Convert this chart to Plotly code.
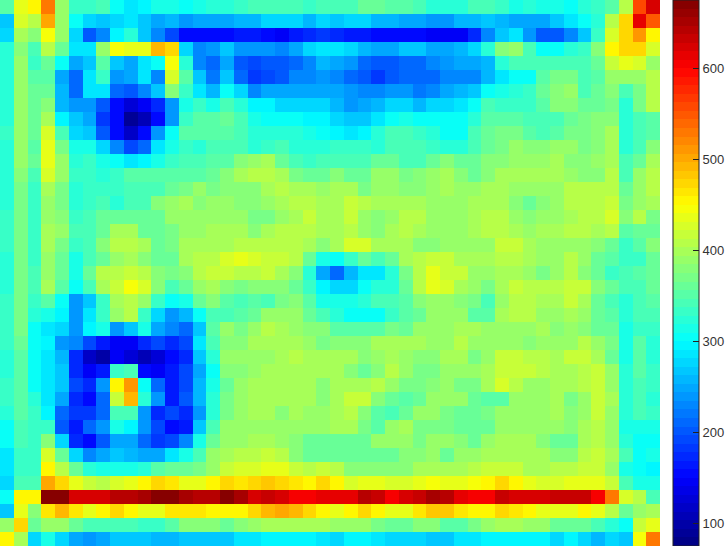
import numpy as np
import plotly.graph_objects as go

# Each row of the grid, top to bottom
row00 = [355,440,450,530,385,330,330,340,300,290,298,312,312,300,318,320,320,330,338,338,338,338,330,345,345,345,360,360,350,350,340,325,325,320,340,340,330,315,325,310,310,305,320,330,350,410,555,625]
row01 = [270,425,410,505,390,300,280,265,280,290,270,245,255,240,250,250,250,260,260,275,275,275,260,280,270,272,275,262,262,252,252,243,243,255,262,270,258,250,248,248,268,282,300,325,405,475,610,550]
row02 = [280,400,375,445,385,275,205,225,295,320,270,230,190,150,150,153,158,160,160,158,145,160,172,180,175,165,162,158,155,155,155,148,143,148,178,225,265,285,235,205,205,228,265,330,425,475,515,450]
row03 = [320,375,345,405,360,290,285,385,445,435,435,495,475,280,225,235,265,240,240,240,232,252,280,290,285,272,262,252,252,265,265,250,250,262,275,320,375,390,345,300,300,320,330,380,450,475,475,425]
row04 = [325,390,335,365,300,250,270,355,270,250,285,300,445,320,225,215,245,205,190,205,205,215,230,255,250,235,215,205,205,212,212,225,240,250,252,255,320,345,345,345,345,340,340,360,420,435,425,390]
row05 = [325,390,350,350,250,215,285,335,240,245,285,225,425,350,265,220,265,215,185,195,205,225,225,235,225,215,200,185,198,210,210,212,225,230,225,255,285,300,305,350,370,370,345,355,390,390,390,405]
row06 = [325,390,360,360,255,215,285,285,215,205,225,270,380,335,285,255,300,275,225,245,245,245,245,245,245,235,225,225,240,240,220,230,245,260,270,300,315,325,330,360,375,385,345,360,380,345,370,410]
row07 = [325,390,365,375,255,240,240,200,150,125,145,175,240,310,330,310,345,320,295,295,275,275,275,275,255,240,250,262,275,275,255,275,275,285,300,340,335,330,335,350,375,380,365,365,370,320,370,405]
row08 = [325,390,365,400,295,265,245,185,150,85,105,155,240,335,355,355,365,345,315,300,300,300,295,295,275,265,265,290,305,315,300,300,300,300,325,350,350,350,345,345,340,365,370,380,375,320,340,355]
row09 = [335,385,360,425,340,280,270,205,150,115,150,240,300,355,355,350,350,340,325,325,325,320,310,305,298,285,298,325,345,345,335,325,305,305,345,360,370,370,355,345,350,370,370,375,395,325,340,350]
row10 = [325,385,350,435,370,315,315,280,225,190,215,285,310,335,320,345,345,345,325,335,345,325,320,320,335,335,335,325,345,345,340,335,325,325,340,365,370,385,375,375,385,385,370,380,395,325,340,375]
row11 = [325,385,365,440,385,320,335,315,300,290,298,315,335,340,345,355,355,375,385,395,365,340,330,345,340,340,340,360,360,345,345,365,375,360,360,375,380,385,385,385,395,380,375,385,400,345,365,395]
row12 = [325,375,345,430,385,335,335,320,335,355,355,355,355,355,355,365,375,395,410,410,395,370,365,365,380,360,360,385,385,370,375,390,400,380,365,375,395,395,395,400,400,385,375,375,405,345,385,405]
row13 = [325,370,330,400,370,325,335,335,335,345,345,345,360,370,385,370,380,380,380,395,410,400,400,385,395,395,370,390,390,375,375,390,400,385,385,395,395,385,385,385,385,405,405,405,410,365,390,405]
row14 = [325,370,330,385,370,325,330,340,325,340,345,375,385,395,375,390,390,375,375,385,395,410,410,400,395,420,410,395,395,395,395,385,385,385,395,395,395,380,365,380,390,405,410,410,415,370,385,395]
row15 = [335,370,330,385,380,335,345,360,360,360,360,360,390,390,390,390,390,390,370,370,385,400,415,395,400,420,385,375,390,410,410,385,385,385,395,405,405,390,375,390,390,400,405,405,425,375,405,370]
row16 = [335,370,330,395,385,345,345,365,395,395,360,360,370,390,390,395,395,395,375,395,410,410,410,400,395,410,390,375,395,405,395,385,385,385,395,405,405,395,390,395,395,405,405,395,410,350,365,365]
row17 = [335,370,335,395,370,335,345,380,405,405,395,360,370,400,400,400,400,410,410,410,410,410,395,380,395,425,425,395,395,395,380,380,385,385,385,385,415,415,400,390,390,390,390,375,365,330,350,375]
row18 = [320,370,335,385,360,315,345,360,385,400,375,360,365,400,405,410,425,435,425,420,420,405,360,310,300,335,360,345,365,395,410,420,420,400,400,395,410,410,395,385,385,405,385,365,355,335,335,360]
row19 = [320,370,340,385,360,315,360,405,410,420,410,380,370,375,410,420,420,410,410,415,400,375,320,250,215,255,285,285,325,370,405,435,420,415,390,385,395,395,385,370,390,405,380,365,335,345,355,365]
row20 = [320,370,340,400,355,300,345,395,420,445,425,380,345,365,390,400,380,370,380,380,380,365,330,295,272,272,300,325,325,365,405,440,425,400,385,370,395,420,405,405,405,420,420,375,360,345,345,365]
row21 = [330,370,335,355,300,235,265,335,395,410,385,335,300,315,360,380,355,345,350,345,370,375,350,315,310,315,320,340,340,350,375,385,385,375,370,345,385,405,405,400,400,420,400,360,345,325,340,350]
row22 = [335,370,320,310,295,235,285,335,385,405,335,275,240,255,300,345,345,355,360,385,385,385,365,340,325,300,300,300,330,355,365,385,385,385,355,355,395,410,410,385,385,395,385,360,350,325,340,345]
row23 = [335,370,305,290,275,235,295,310,240,265,310,250,225,215,270,350,385,370,385,405,400,385,375,375,350,350,350,350,370,360,385,385,390,395,395,385,385,385,385,395,375,385,375,360,360,310,335,330]
row24 = [330,360,305,295,240,225,190,160,145,145,175,195,170,195,285,340,380,380,395,395,395,395,385,370,375,375,375,395,400,400,400,385,385,410,385,385,385,385,375,385,385,385,405,385,370,310,355,320]
row25 = [325,355,300,285,255,170,115,95,145,130,110,125,150,175,270,320,385,385,390,385,395,410,395,400,395,395,375,390,395,385,375,375,395,395,370,385,420,420,405,405,395,415,415,400,360,310,350,320]
row26 = [320,350,300,285,265,175,145,165,330,340,150,145,160,190,245,300,375,375,385,400,400,400,400,400,395,380,365,375,405,390,370,370,385,385,385,395,420,420,420,405,400,400,410,415,385,320,350,335]
row27 = [330,355,300,290,265,195,170,240,450,510,300,210,165,190,255,310,360,385,395,395,395,395,395,380,400,400,400,405,385,370,370,375,385,370,370,400,425,405,390,390,395,395,410,415,385,320,345,335]
row28 = [330,355,320,285,250,170,155,215,420,495,320,235,160,205,255,325,370,385,395,395,395,395,395,380,395,415,415,380,365,355,360,385,385,385,365,350,355,385,385,385,395,370,385,415,395,325,345,325]
row29 = [325,350,330,295,215,180,180,215,345,345,240,175,195,175,235,325,370,385,395,395,380,400,385,385,395,405,375,350,340,360,385,385,370,360,360,370,385,385,385,385,400,375,385,415,390,325,340,335]
row30 = [305,345,330,330,200,165,215,240,315,295,240,190,155,165,265,345,385,385,385,385,385,385,385,385,395,395,370,355,385,400,370,370,370,360,360,365,385,385,385,385,385,375,395,410,385,310,310,310]
row31 = [300,345,330,375,280,170,155,205,250,245,210,185,190,230,315,365,385,385,395,395,385,375,365,365,365,365,365,385,385,385,370,385,385,375,365,385,395,395,395,375,365,365,395,410,385,325,305,305]
row32 = [290,335,335,425,360,280,225,245,265,260,245,250,285,315,345,385,395,410,410,420,405,380,365,365,365,365,365,365,365,380,380,390,365,385,385,395,395,395,395,395,375,375,405,420,395,340,305,310]
row33 = [290,335,335,450,405,360,325,315,315,315,325,350,360,360,370,385,415,425,430,440,435,420,405,420,405,375,375,375,375,375,395,395,395,395,405,415,415,415,395,395,405,405,415,415,385,310,300,298]
row34 = [280,345,345,505,475,435,420,410,425,435,450,475,465,440,440,450,475,465,475,485,475,460,450,470,450,425,435,435,425,425,440,445,435,435,445,450,470,450,440,430,430,435,440,435,415,340,315,310]
row35 = [300,450,450,670,670,625,625,625,640,645,650,675,675,655,640,640,670,650,625,635,625,605,605,615,615,615,640,630,605,620,635,650,640,615,605,605,635,620,620,620,630,630,630,608,530,425,405,340]
row36 = [270,435,375,465,490,465,440,450,470,450,440,440,460,460,460,450,450,450,475,495,505,490,470,450,440,450,470,450,440,440,465,485,485,460,450,450,475,465,450,440,440,440,450,440,410,360,385,400]
row37 = [390,475,365,385,385,365,345,345,345,340,335,335,350,375,380,375,365,375,385,395,395,395,395,395,385,385,385,370,360,360,375,375,350,350,370,385,400,400,385,385,360,360,360,345,325,300,420,440]
row38 = [455,400,275,315,280,250,240,250,265,265,265,255,255,270,270,270,270,285,285,295,295,295,295,285,278,295,295,285,280,280,280,268,268,285,285,295,298,298,298,298,280,295,280,262,280,268,445,530]

grid_values = [row00,row01,row02,row03,row04,row05,row06,row07,row08,row09,
               row10,row11,row12,row13,row14,row15,row16,row17,row18,row19,
               row20,row21,row22,row23,row24,row25,row26,row27,row28,row29,
               row30,row31,row32,row33,row34,row35,row36,row37,row38]
colorbar_ticks = [100, 200, 300, 400, 500, 600]

for i, r in enumerate(grid_values):
    assert len(r) == 48, (i, len(r))

# 64-level stepped jet colour map
N = 64
colorscale = []
for i in range(N):
    t = (i + 0.5) / N
    r = np.clip(1.5 - abs(4 * t - 3), 0, 1)
    g = np.clip(1.5 - abs(4 * t - 2), 0, 1)
    b = np.clip(1.5 - abs(4 * t - 1), 0, 1)
    c = f"rgb({int(round(r*255))},{int(round(g*255))},{int(round(b*255))})"
    colorscale.append([i / N, c])
    colorscale.append([(i + 1) / N, c])

fig = go.Figure(go.Heatmap(
    z=grid_values,
    zmin=75, zmax=675,
    colorscale=colorscale,
    xgap=0, ygap=0,
    hoverongaps=False,
    colorbar=dict(
        x=673 / 660, xanchor="left", xpad=0,
        y=0.5, yanchor="middle", ypad=0,
        len=1, lenmode="fraction",
        thickness=26, thicknessmode="pixels",
        outlinecolor="#222222", outlinewidth=1,
        tickmode="array", tickvals=colorbar_ticks,
        ticks="inside", ticklen=6, tickcolor="#222222", tickwidth=1,
        tickfont=dict(family="Liberation Sans", size=13, color="#333333"),
    ),
))
fig.update_xaxes(visible=False, range=[-0.5, 47.5], fixedrange=True)
fig.update_yaxes(visible=False, range=[38.5, -0.5], fixedrange=True)
fig.update_layout(
    width=726, height=546,
    margin=dict(l=0, r=66, t=0, b=0, pad=0, autoexpand=False),
    paper_bgcolor="white", plot_bgcolor="white",
)
fig.write_html("out.html", config={"displayModeBar": False},
               post_script="document.body.style.margin='0';")
